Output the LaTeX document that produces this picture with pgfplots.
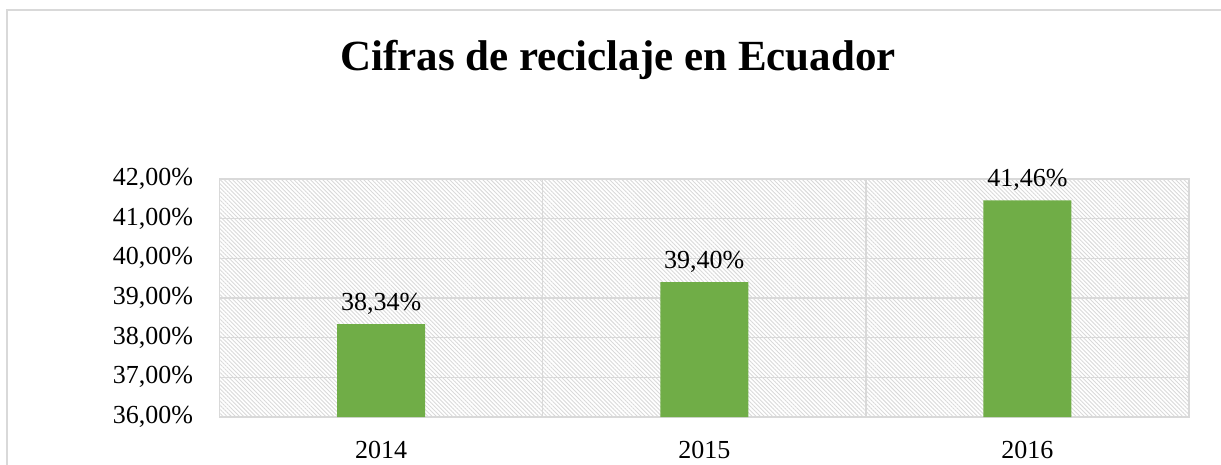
\documentclass[border=0pt]{standalone}
\usepackage{pgfplots}
\pgfplotsset{compat=1.18}
\usepackage{fontspec}
\setmainfont{Liberation Serif}
\usetikzlibrary{patterns.meta}
\definecolor{bargreen}{HTML}{70AD47}
\definecolor{gridgray}{HTML}{D9D9D9}
\begin{document}
\begin{tikzpicture}[x=1pt,y=1pt]
\useasboundingbox (0,0) rectangle (1221,464);
\draw[gridgray, line width=1.5pt] (7,-5) -- (7,454) -- (1230,454);
\node[font=\fontsize{43}{48}\selectfont\bfseries] at (618,404) {Cifras de reciclaje en Ecuador};
\begin{axis}[
  at={(219.5pt,47pt)}, anchor=south west,
  scale only axis, width=969.5pt, height=238pt,
  xmin=-0.5, xmax=2.5, ymin=36, ymax=42,
  xtick={0,1,2}, xticklabels={2014,2015,2016},
  extra x ticks={0.5,1.5}, extra x tick labels={},
  extra x tick style={grid=major, major grid style={gridgray, line width=1.5pt}},
  ytick={36,37,38,39,40,41,42},
  yticklabels={{36,00\%},{37,00\%},{38,00\%},{39,00\%},{40,00\%},{41,00\%},{42,00\%}},
  ymajorgrids, major grid style={gridgray, line width=1.5pt},
  major tick length=0pt,
  axis line style={gridgray, line width=1.5pt},
  tick label style={font=\fontsize{26}{30}\selectfont},
  yticklabel style={xshift=-23pt},
  xticklabel style={yshift=-20.5pt},
  axis background/.style={pattern={Lines[angle=-45,distance=2.9pt,line width=0.9pt]}, pattern color=gridgray},
  ybar, bar width=88pt,
  nodes near coords={\pgfmathprintnumber[assume math mode=true,fixed,fixed zerofill,precision=2,use comma]{\pgfplotspointmeta}\%},
  every node near coord/.append style={font=\fontsize{26}{30}\selectfont, yshift=6pt, text=black},
]
\addplot[fill=bargreen, draw=none] coordinates {(0,38.34) (1,39.40) (2,41.46)};
\end{axis}
\end{tikzpicture}
\end{document}
